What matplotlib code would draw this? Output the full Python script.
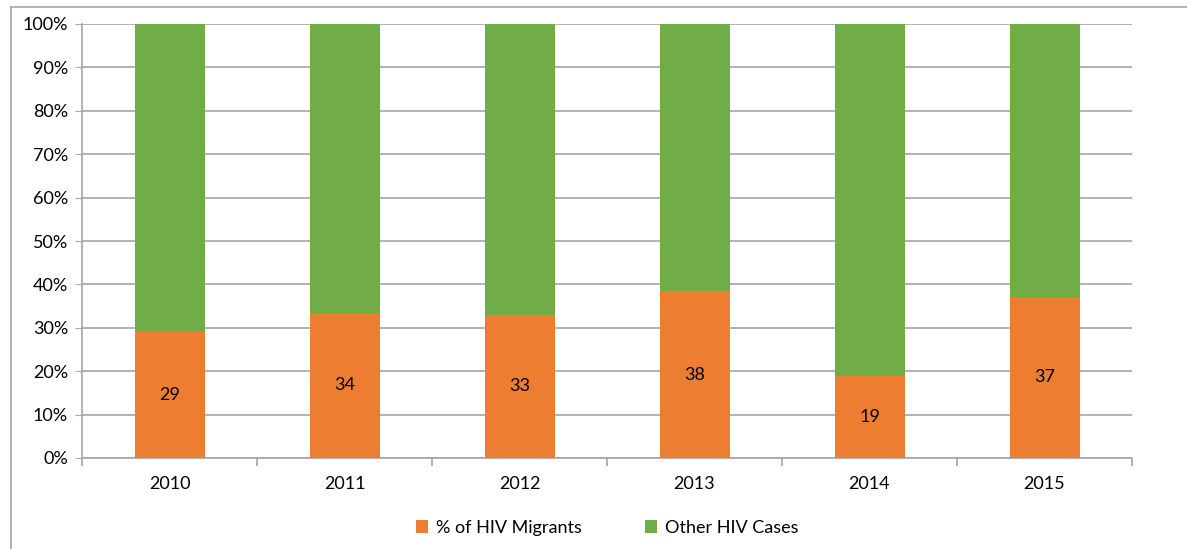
import matplotlib.pyplot as plt
import numpy as np

years = ['2010', '2011', '2012', '2013', '2014', '2015']
migrants = [29.0, 33.5, 33.0, 38.4, 18.8, 37.1]
others = [100 - v for v in migrants]

orange = '#ed7d31'
green = '#70ad47'
grid_col = '#a6a6a6'

plt.rcParams['font.family'] = ['Lato', 'DejaVu Sans']

fig = plt.figure(figsize=(11.87, 5.49), dpi=100)
ax = fig.add_axes([82 / 1187, 1 - 458 / 549, 1050 / 1187, 434 / 549])

x = np.arange(len(years))
b1 = ax.bar(x, migrants, width=0.4, color=orange, label='% of HIV Migrants', zorder=3)
ax.bar(x, others, width=0.4, bottom=migrants, color=green, label='Other HIV Cases', zorder=3)

for rect, v in zip(b1, migrants):
    ax.text(rect.get_x() + rect.get_width() / 2, v / 2, f'{round(v)}',
            ha='center', va='center', fontsize=13, color='black', zorder=4)

ax.set_xlim(-0.5, len(years) - 0.5)
ax.set_ylim(0, 100)
ax.set_yticks(np.arange(0, 101, 10))
ax.set_yticklabels([f'{t}%' for t in range(0, 101, 10)], fontsize=13)
ax.set_xticks(x)
ax.set_xticklabels(years, fontsize=13)
ax.set_xticks(np.arange(-0.5, len(years)), minor=True)

ax.yaxis.grid(True, color=grid_col, linewidth=1.2, zorder=0)
ax.set_axisbelow(True)

for s in ['top', 'right']:
    ax.spines[s].set_visible(False)
for s in ['left', 'bottom']:
    ax.spines[s].set_color(grid_col)
    ax.spines[s].set_linewidth(1.2)

ax.tick_params(axis='y', length=5, color=grid_col, pad=5)
ax.tick_params(axis='x', which='major', length=0, pad=13)
ax.tick_params(axis='x', which='minor', length=6, color=grid_col, width=1.2)

ax.legend(loc='upper center', bbox_to_anchor=(0.5, -0.105), ncol=2, frameon=False,
          fontsize=13, handlelength=0.7, handleheight=0.7, columnspacing=3.5,
          handletextpad=0.4)

# outer frame lines (left and top)
fig.add_artist(plt.Line2D([11 / 1187, 11 / 1187], [0, 1 - 7 / 549], color='#a6a6a6', linewidth=1.2))
fig.add_artist(plt.Line2D([11 / 1187, 1], [1 - 7 / 549, 1 - 7 / 549], color='#a6a6a6', linewidth=1.2))

fig.savefig('out.png', dpi=100)
